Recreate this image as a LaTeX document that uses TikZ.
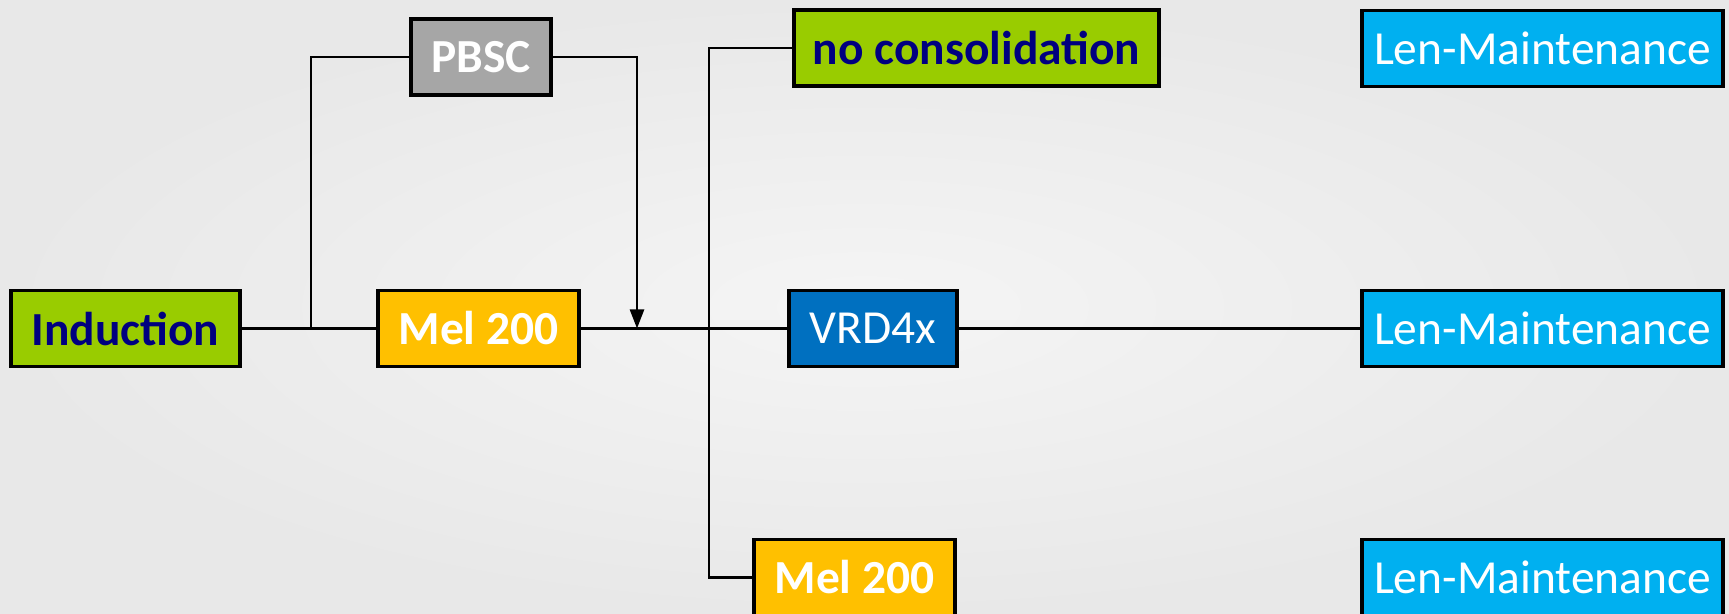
\documentclass[tikz,border=0pt]{standalone}
\usepackage{fontspec}
\setmainfont{Carlito}
\usepackage{tikz}
\usetikzlibrary{arrows.meta,positioning}
\definecolor{LeafGreen}{HTML}{99CC00}
\definecolor{MelGold}  {HTML}{FFC000}
\definecolor{PbscGray} {HTML}{A6A6A6}
\definecolor{VrdBlue}  {HTML}{0070C0}
\definecolor{LenCyan}  {HTML}{00B0F0}
\definecolor{NavyText} {HTML}{000080}

\begin{document}
\begin{tikzpicture}[
  stage/.style={draw=black, line width=2pt, minimum height=1.52cm, inner sep=0pt,
                font=\fontsize{27}{32}\selectfont},
  boldstage/.style={stage, font=\fontsize{27}{32}\selectfont\bfseries},
  flow/.style={line width=1.4pt, black}]
\useasboundingbox (0,0) rectangle (34.58,-12.28);
\shade[inner color=white!96!black, outer color=white!91!black] (0,0) rectangle (34.58,-12.28);
\node[boldstage, fill=LeafGreen, text=NavyText, minimum width=4.58cm] (induction) at (2.51,-6.57) {Induction};
\node[boldstage, fill=MelGold, text=white, minimum width=4.02cm] (mel) at (9.57,-6.57) {Mel 200};
\node[boldstage, fill=PbscGray, text=white, minimum width=2.80cm] (pbsc) at (9.62,-1.14) {PBSC};
\node[boldstage, fill=LeafGreen, text=NavyText, minimum width=7.30cm] (nocons) at (19.53,-0.96) {no consolidation};
\node[stage, fill=VrdBlue, text=white, minimum width=3.36cm] (vrd) at (17.46,-6.57) {VRD4x};
\node[boldstage, fill=MelGold, text=white, minimum width=4.02cm] (melB) at (17.09,-11.55) {Mel 200};
\node[stage, fill=LenCyan, text=white, minimum width=7.22cm] (lenA) at (30.85,-0.97) {Len-Maintenance};
\node[stage, fill=LenCyan, text=white, minimum width=7.22cm] (lenB) at (30.85,-6.57) {Len-Maintenance};
\node[stage, fill=LenCyan, text=white, minimum width=7.22cm] (lenC) at (30.85,-11.55) {Len-Maintenance};
\coordinate (split) at (6.22,-6.57);
\coordinate (join) at (12.74,-6.57);
\coordinate (fork) at (14.18,-6.57);
\draw[flow] (induction.east) -- (mel.west);
\draw[flow] (split) |- (pbsc.west);
\draw[flow, -{Triangle[length=0.38cm, width=0.28cm]}] (pbsc.east) -| (join);
\draw[flow] (mel.east) -- (vrd.west);
\draw[flow] (nocons.west) -| (fork) |- (melB.west);
\draw[flow] (vrd.east) -- (lenB.west);
\end{tikzpicture}
\end{document}
